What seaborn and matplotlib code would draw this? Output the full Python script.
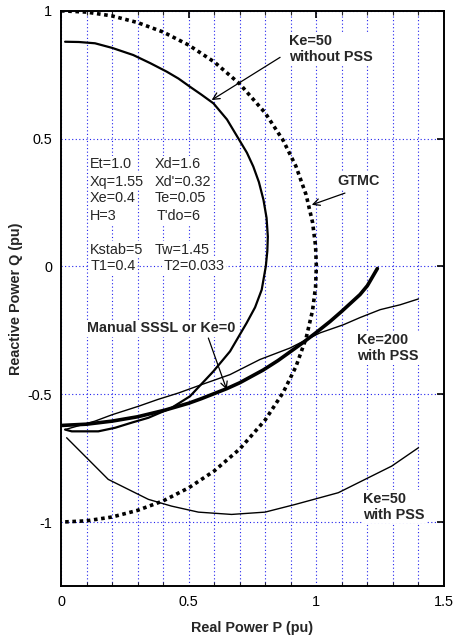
import matplotlib
matplotlib.use("Agg")
import matplotlib.pyplot as plt
import seaborn as sns
import numpy as np
from matplotlib.ticker import MultipleLocator

# ---- data ----
gtmc_p = [0.0, 0.10, 0.20, 0.30, 0.40, 0.50, 0.60, 0.70, 0.80, 0.87, 0.92, 0.96, 0.985, 0.997, 1.0,
          0.997, 0.985, 0.96, 0.92, 0.87, 0.80, 0.70, 0.60, 0.50, 0.40, 0.30, 0.20, 0.10, 0.0]
gtmc_q = [1.0, 0.995, 0.98, 0.954, 0.917, 0.866, 0.80, 0.714, 0.60, 0.493, 0.392, 0.28, 0.173, 0.08, 0.0,
          -0.08, -0.173, -0.28, -0.392, -0.493, -0.60, -0.714, -0.80, -0.866, -0.917, -0.954, -0.98, -0.995, -1.0]

ke50_nopss_p = [0.016, 0.07, 0.133, 0.2, 0.283, 0.35, 0.414, 0.46, 0.505, 0.55, 0.597, 0.65, 0.695, 0.728,
                0.753, 0.775, 0.793, 0.805, 0.81, 0.808, 0.802, 0.786, 0.76, 0.727, 0.662, 0.597, 0.55,
                0.505, 0.433, 0.342, 0.28, 0.212, 0.146, 0.09, 0.042, 0.016]
ke50_nopss_q = [0.879, 0.878, 0.873, 0.855, 0.827, 0.795, 0.762, 0.735, 0.703, 0.672, 0.638, 0.575, 0.5,
                0.445, 0.391, 0.33, 0.26, 0.19, 0.117, 0.06, 0.0, -0.091, -0.16, -0.221, -0.332, -0.41,
                -0.46, -0.508, -0.553, -0.592, -0.61, -0.631, -0.645, -0.645, -0.645, -0.638]

manual_p = [0.0, 0.1, 0.2, 0.3, 0.407, 0.5, 0.55, 0.649, 0.7, 0.792, 0.85, 0.949, 1.0, 1.054, 1.1, 1.171, 1.2, 1.239]
manual_q = [-0.622, -0.617, -0.605, -0.588, -0.562, -0.535, -0.517, -0.478, -0.455, -0.405, -0.368, -0.297,
            -0.258, -0.215, -0.175, -0.11, -0.075, -0.008]

ke200_p = [0.016, 0.133, 0.2, 0.303, 0.38, 0.46, 0.551, 0.662, 0.779, 0.897, 0.962, 1.014, 1.106, 1.171,
           1.25, 1.328, 1.40]
ke200_q = [-0.638, -0.605, -0.58, -0.547, -0.52, -0.495, -0.462, -0.423, -0.364, -0.319, -0.286, -0.26,
           -0.228, -0.2, -0.169, -0.15, -0.127]

ke50_pss_p = [0.022, 0.107, 0.185, 0.342, 0.433, 0.538, 0.668, 0.799, 0.917, 1.086, 1.295, 1.40]
ke50_pss_q = [-0.670, -0.755, -0.833, -0.911, -0.9375, -0.961, -0.97, -0.961, -0.931, -0.885, -0.781, -0.709]

params = [("Et=1.0", "Xd=1.6"), ("Xq=1.55", "Xd'=0.32"), ("Xe=0.4", "Te=0.05"), ("H=3", "T'do=6"),
          ("Kstab=5", "Tw=1.45"), ("T1=0.4", "T2=0.033")]

# ---- figure ----
sns.set_style("white")
plt.rcParams['font.family'] = ['Liberation Sans', 'DejaVu Sans']
fig = plt.figure(figsize=(4.54, 6.36), dpi=100)
ax = fig.add_axes([0.1344, 0.0786, 0.8436, 0.9044])

ax.set_xlim(0, 1.5)
ax.set_ylim(-1.25, 1.0)

# grid
ax.xaxis.set_major_locator(MultipleLocator(0.5))
ax.xaxis.set_minor_locator(MultipleLocator(0.1))
ax.yaxis.set_major_locator(MultipleLocator(0.5))
ax.grid(False)
gkw = dict(color='#2222ee', linestyle=(0, (1, 2.2)), linewidth=0.8)
ax.grid(True, which='minor', axis='x', **gkw)
ax.grid(True, which='major', axis='x', **gkw)
ax.grid(True, which='major', axis='y', **gkw)
ax.set_axisbelow(True)

kw = dict(sort=False, estimator=None, ax=ax, legend=False)
sns.lineplot(x=gtmc_p, y=gtmc_q, color='black', linewidth=2.6, linestyle=(0, (1, 1)), **kw)
sns.lineplot(x=ke50_nopss_p, y=ke50_nopss_q, color='black', linewidth=1.6, **kw)
sns.lineplot(x=manual_p, y=manual_q, color='black', linewidth=2.6, **kw)
sns.lineplot(x=ke200_p, y=ke200_q, color='black', linewidth=1.0, **kw)
sns.lineplot(x=ke50_pss_p, y=ke50_pss_q, color='black', linewidth=1.0, **kw)

bb = dict(facecolor='white', edgecolor='none', pad=1.0)
fs = 10.4
ax.text(0.893, 0.85, "Ke=50\nwithout PSS", fontsize=fs, fontweight='bold', ha='left', va='center',
        linespacing=1.15, bbox=bb)
ax.text(1.082, 0.335, "GTMC", fontsize=fs, fontweight='bold', ha='left', va='center', bbox=bb)
ax.text(0.10, -0.241, "Manual SSSL or Ke=0", fontsize=fs, fontweight='bold', ha='left', va='center', bbox=bb)
ax.text(1.161, -0.32, "Ke=200\nwith PSS", fontsize=fs, fontweight='bold', ha='left', va='center',
        linespacing=1.15, bbox=bb)
ax.text(1.184, -0.94, "Ke=50\nwith PSS", fontsize=fs, fontweight='bold', ha='left', va='center',
        linespacing=1.15, bbox=bb)

rows_q = [0.40, 0.331, 0.266, 0.198, 0.065, 0.0]
col2_x = [0.368, 0.368, 0.368, 0.375, 0.368, 0.40]
for (a, b), q, x2 in zip(params, rows_q, col2_x):
    ax.text(0.114, q, a, fontsize=fs, ha='left', va='center', bbox=bb)
    ax.text(x2, q, b, fontsize=fs, ha='left', va='center', bbox=bb)

ap = dict(arrowstyle='->', color='black', lw=0.9, shrinkA=0, shrinkB=0, mutation_scale=12)
ax.annotate("", xy=(0.590, 0.651), xytext=(0.858, 0.818), arrowprops=ap)
ax.annotate("", xy=(0.982, 0.241), xytext=(1.112, 0.287), arrowprops=ap)
ax.annotate("", xy=(0.649, -0.482), xytext=(0.577, -0.28), arrowprops=ap)

ax.set_xticks([0, 0.5, 1, 1.5])
ax.set_xticklabels(["0", "0.5", "1", "1.5"])
ax.set_yticks([-1, -0.5, 0, 0.5, 1])
ax.set_yticklabels(["-1", "-0.5", "0", "0.5", "1"])
ax.tick_params(axis='both', which='major', direction='in', length=5, width=1.2, labelsize=fs,
               top=True, right=True, pad=6.5, colors='black')
ax.tick_params(axis='x', which='minor', direction='in', length=3, width=0.8, top=True, bottom=True)

for s in ax.spines.values():
    s.set_color('black')
    s.set_linewidth(1.4)

ax.set_xlabel("Real Power P (pu)", fontsize=fs, fontweight='bold', labelpad=8.5)
ax.set_ylabel("Reactive Power Q (pu)", fontsize=fs, fontweight='bold', labelpad=3)

fig.savefig("out.png", dpi=100)
